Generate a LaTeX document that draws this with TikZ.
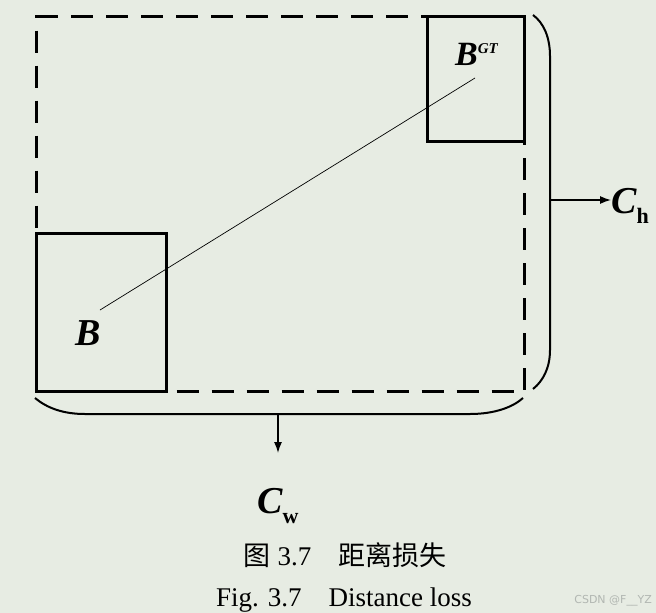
\documentclass[tikz,border=0pt]{standalone}
\usepackage{fontspec}
\setmainfont{Liberation Serif}
\newfontfamily\cjkfont{Noto Sans CJK SC}
\newfontfamily\markfont{DejaVu Sans}
\usetikzlibrary{arrows.meta,positioning}
\definecolor{paper}{RGB}{231,236,227}
\definecolor{markgray}{RGB}{178,183,178}

\begin{document}
\begin{tikzpicture}[
    x=1pt, y=-1pt,
    font=\fontsize{27}{30}\selectfont,
    cover/.style={draw, line width=3pt, dash pattern=on 22pt off 13pt, inner sep=0pt, anchor=north west},
    box/.style={draw, line width=2.8pt, inner sep=0pt, anchor=north west},
    brace/.style={line width=2pt},
    arrow/.style={-{Latex[length=11pt, width=8pt]}, line width=1.4pt},
    link/.style={line width=0.7pt},
    sym/.style={font=\fontsize{38}{40}\selectfont\bfseries\itshape, inner sep=0pt, anchor=base west},
    caption/.style={inner sep=0pt, anchor=base}
  ]
    \fill[paper] (0,0) rectangle (656,613);
    \useasboundingbox (0,0) rectangle (656,613);

    % boxes
    \node[cover, minimum width=488pt, minimum height=375pt] (enclose) at (35,15) {};
    \node[box, minimum width=97pt, minimum height=125pt] (gtbox) at (426,15) {};
    \node[box, minimum width=130pt, minimum height=158pt] (predbox) at (35,232) {};

    \node[sym] (b) at (75,345) {B};
    \node[sym, font=\fontsize{34}{36}\selectfont\bfseries\itshape] (bgt) at (455,65) {B\raisebox{12pt}{\fontsize{15}{15}\selectfont GT}};

    \coordinate (bctr) at (100,310);
    \coordinate (gtctr) at (475,78);
    \draw[link] (bctr) -- (gtctr);

    % enclosing brackets
    \draw[brace] (533,15) .. controls (544,23) and (550,38) .. (550,56) -- (550,350) .. controls (550,368) and (543,381) .. (533,389);
    \draw[brace] (35,398) .. controls (47,408) and (63,414) .. (85,414) -- (470,414) .. controls (495,414) and (513,407) .. (523,398);
    \coordinate (hmid) at (550,200);
    \coordinate (wmid) at (278,414);

    \node[sym] (ch) at (611,213) {C\raisebox{-10pt}{\fontsize{22}{22}\selectfont\upshape h}};
    \node[sym] (cw) at (257,513) {C\raisebox{-10pt}{\fontsize{22}{22}\selectfont\upshape w}};

    \draw[arrow] (hmid) -- (hmid -| ch.west);
    \draw[arrow] (wmid) -- ++(0,39);

    % caption
    \node[caption] (capcn) at (345,565) {{\cjkfont 图} 3.7\quad{\cjkfont 距离损失}};
    \node[caption] (capen) at (344,606) {Fig. 3.7\quad Distance loss};
    \node[inner sep=0pt, anchor=base east, text=markgray, font=\markfont\fontsize{11}{12}\selectfont] (mark) at (652,603) {CSDN @F\_\_YZ};
\end{tikzpicture}
\end{document}
